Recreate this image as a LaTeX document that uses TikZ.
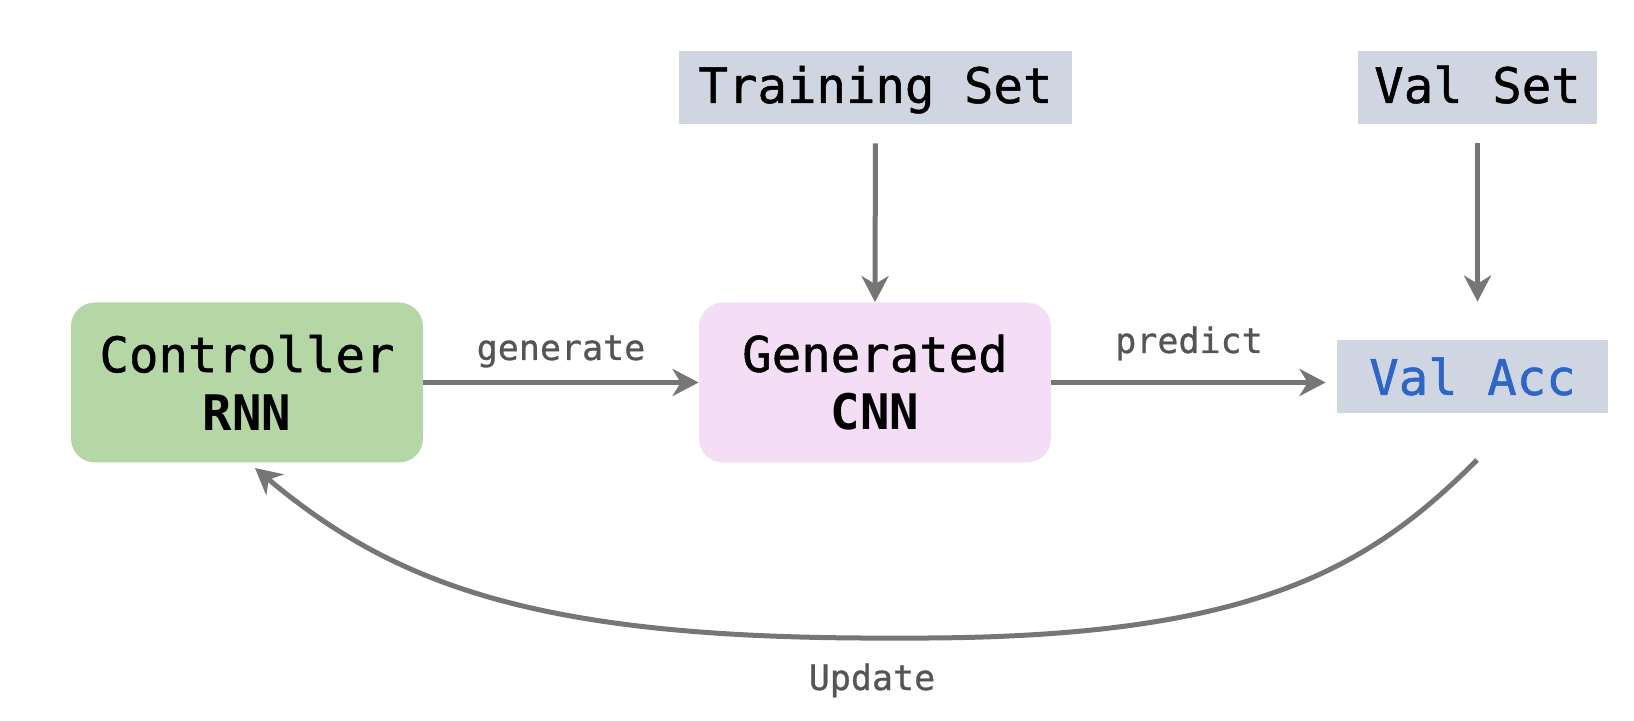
\documentclass[tikz,border=0pt]{standalone}
\usepackage{fontspec}
\setmonofont{DejaVu Sans Mono}
\newfontfamily\medmono[FakeBold=1]{DejaVu Sans Mono}
\newfontfamily\labmono[FakeBold=0.8]{DejaVu Sans Mono}
\usetikzlibrary{arrows.meta}
\definecolor{boxgreen}{HTML}{B4D7A5}
\definecolor{boxpink}{HTML}{F3DEF6}
\definecolor{boxgray}{HTML}{CFD6E2}
\definecolor{accblue}{HTML}{2F65C6}
\definecolor{arrgray}{HTML}{767676}
\definecolor{labgray}{HTML}{555555}
\tikzset{
  bigbox/.style={rounded corners=12pt, minimum width=176pt, minimum height=80pt,
    inner sep=0pt, align=center, font=\medmono\fontsize{24.5}{29}\selectfont},
  setbox/.style={fill=boxgray, minimum height=36.5pt, inner sep=0pt,
    font=\medmono\fontsize{24.5}{29}\selectfont},
  arr/.style={draw=arrgray, line width=2.5pt,
    -{Stealth[length=13pt, width=13.5pt, inset=4pt]}},
  lab/.style={text=labgray, anchor=base, inner sep=0pt,
    font=\labmono\fontsize{17.5}{20}\selectfont}
}
\begin{document}
\begin{tikzpicture}[x=0.5pt, y=-0.5pt]
\useasboundingbox (0,0) rectangle (1634,721);
\node[bigbox, fill=boxgreen] (ctrl) at (247,382.5) {Controller\\{\ttfamily\bfseries RNN}};
\node[bigbox, fill=boxpink] (gen) at (875,382.5) {Generated\\{\ttfamily\bfseries CNN}};
\node[setbox, minimum width=135.5pt, text=accblue] (acc) at (1472.5,376.5) {Val Acc};
\node[setbox, minimum width=196.5pt, text height=18pt, text depth=2.5pt] (train) at (875.5,87.5) {Training Set};
\node[setbox, minimum width=119.5pt, text height=18pt, text depth=2.5pt] (vset) at (1477.5,87.5) {Val Set};
\draw[arr] (ctrl.east) -- (gen.west);
\draw[arr, shorten >=5.5pt] (gen.east) -- (gen.east -| acc.west);
\draw[arr, shorten <=9.5pt] (train.south) -- (gen.north);
\draw[arr, shorten <=9.5pt, shorten >=19pt] (vset.south) -- (vset.south |- acc.north);
\node[lab] (lgen) at (561,360) {generate};
\node[lab] (lpred) at (1189,353) {predict};
\coordinate (u0) at (1477,460);
\coordinate (um) at (900,638);
\coordinate (u1) at (255,468);
\draw[arr] (u0) .. controls (1367,570) and (1250,640) .. (um)
  .. controls (550,640) and (400,590) .. (u1);
\node[lab] (lupd) at (872,690) {Update};
\end{tikzpicture}
\end{document}
